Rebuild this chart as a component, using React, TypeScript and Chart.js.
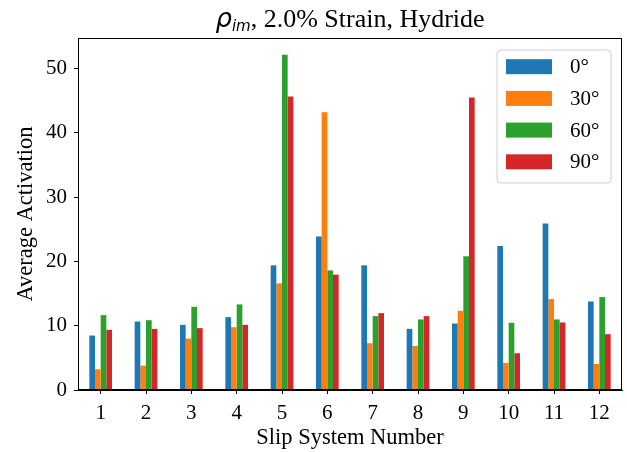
import React, { useEffect, useRef } from "react";
import { Chart, registerables } from "chart.js";

Chart.register(...registerables);

const categories = ["1", "2", "3", "4", "5", "6", "7", "8", "9", "10", "11", "12"];
const seriesLabels = ["0°", "30°", "60°", "90°"];
const seriesColors = ["#1f77b4", "#ff7f0e", "#2ca02c", "#d62728"];
const values0 = [8.47, 10.65, 10.13, 11.33, 19.39, 23.86, 19.39, 9.51, 10.34, 22.4, 25.88, 13.77];
const values30 = [3.22, 3.79, 8.0, 9.77, 16.58, 43.19, 7.28, 6.86, 12.32, 4.21, 14.14, 4.05];
const values60 = [11.64, 10.86, 12.94, 13.31, 52.13, 18.6, 11.49, 10.97, 20.79, 10.45, 10.97, 14.45];
const values90 = [9.36, 9.51, 9.62, 10.13, 45.63, 17.93, 11.95, 11.49, 45.48, 5.72, 10.5, 8.68];
const yTicks = [0, 10, 20, 30, 40, 50];

const SERIF = "'Liberation Serif', 'Times New Roman', serif";
const MATH = "'DejaVu Sans', sans-serif";

const decorations = {
  id: "decorations",
  afterDraw(chart: Chart) {
    const { ctx, chartArea } = chart;
    const { left, right, top, bottom } = chartArea;
    ctx.save();

    // frame on top and right edges
    ctx.strokeStyle = "#000";
    ctx.lineWidth = 1;
    ctx.strokeRect(left + 0.5, top + 0.5, right - left - 1, bottom - top - 1);

    // title with math-style rho subscript
    const baseline = 27;
    ctx.fillStyle = "#000";
    ctx.textBaseline = "alphabetic";
    const rhoFont = `italic 26px ${MATH}`;
    const subFont = `italic 15px ${MATH}`;
    const restFont = `26px ${SERIF}`;
    const rest = ", 2.0% Strain, Hydride";
    ctx.font = rhoFont;
    const wRho = ctx.measureText("ρ").width;
    ctx.font = subFont;
    const wSub = ctx.measureText("im").width;
    ctx.font = restFont;
    const wRest = ctx.measureText(rest).width;
    const total = wRho + wSub + wRest;
    let x = (left + right) / 2 - total / 2;
    ctx.textAlign = "left";
    ctx.font = rhoFont;
    ctx.fillText("ρ", x, baseline);
    x += wRho;
    ctx.font = subFont;
    ctx.fillText("im", x, baseline + 4);
    x += wSub;
    ctx.font = restFont;
    ctx.fillText(rest, x, baseline);

    // axis titles
    ctx.font = `22.5px ${SERIF}`;
    ctx.textAlign = "center";
    ctx.textBaseline = "alphabetic";
    ctx.fillText("Slip System Number", (left + right) / 2, 444);
    ctx.save();
    ctx.translate(26, (top + bottom) / 2);
    ctx.rotate(-Math.PI / 2);
    ctx.textBaseline = "middle";
    ctx.fillText("Average Activation", 0, 0);
    ctx.restore();

    // legend
    const bx = 497, by = 50, bw = 114, bh = 133, r = 4;
    ctx.beginPath();
    ctx.moveTo(bx + r, by);
    ctx.arcTo(bx + bw, by, bx + bw, by + bh, r);
    ctx.arcTo(bx + bw, by + bh, bx, by + bh, r);
    ctx.arcTo(bx, by + bh, bx, by, r);
    ctx.arcTo(bx, by, bx + bw, by, r);
    ctx.closePath();
    ctx.fillStyle = "rgba(255,255,255,0.8)";
    ctx.fill();
    ctx.strokeStyle = "#d0d0d0";
    ctx.lineWidth = 1;
    ctx.stroke();
    ctx.font = `21px ${SERIF}`;
    ctx.textAlign = "left";
    ctx.textBaseline = "middle";
    seriesLabels.forEach((label, i) => {
      const cy = 66.7 + i * 31.7;
      ctx.fillStyle = seriesColors[i];
      ctx.fillRect(506, cy - 7.5, 46, 15);
      ctx.fillStyle = "#000";
      ctx.fillText(label, 570, cy + 1);
    });

    ctx.restore();
  },
};

export default function App() {
  const canvasRef = useRef<HTMLCanvasElement | null>(null);

  useEffect(() => {
    if (!canvasRef.current) return;
    const seriesValues = [values0, values30, values60, values90];
    const chart = new Chart(canvasRef.current, {
      type: "bar",
      data: {
        labels: categories,
        datasets: seriesValues.map((vals, i) => ({
          label: seriesLabels[i],
          data: vals,
          backgroundColor: seriesColors[i],
          borderWidth: 0,
          categoryPercentage: 0.5,
          barPercentage: 1.0,
        })),
      },
      options: {
        animation: false,
        responsive: false,
        devicePixelRatio: 1,
        layout: { padding: { left: 0, right: 5, top: 38, bottom: 0 } },
        plugins: {
          legend: { display: false },
          title: { display: false },
          tooltip: { enabled: false },
        },
        scales: {
          x: {
            offset: true,
            grid: {
              display: true,
              drawOnChartArea: false,
              drawTicks: true,
              tickLength: 4,
              color: "#000",
              offset: false,
            },
            border: { display: true, color: "#000", width: 1 },
            ticks: {
              color: "#000",
              font: { family: SERIF, size: 21 },
              padding: 7,
              maxRotation: 0,
              autoSkip: false,
            },
            afterFit(scale: any) {
              scale.height = 62;
            },
          },
          y: {
            min: 0,
            max: 54.74,
            grid: {
              display: true,
              drawOnChartArea: false,
              drawTicks: true,
              tickLength: 4,
              color: "#000",
            },
            border: { display: true, color: "#000", width: 1 },
            ticks: {
              stepSize: 10,
              color: "#000",
              font: { family: SERIF, size: 21 },
              padding: 7,
            },
            afterBuildTicks(scale: any) {
              scale.ticks = yTicks.map((v) => ({ value: v }));
            },
            afterFit(scale: any) {
              scale.width = 78;
            },
          },
        },
      },
      plugins: [decorations],
    });
    return () => chart.destroy();
  }, []);

  return (
    <div style={{ position: "fixed", left: 0, top: 0, width: 627, height: 452, background: "#fff" }}>
      <canvas ref={canvasRef} width={627} height={452} style={{ width: 627, height: 452 }} />
    </div>
  );
}
